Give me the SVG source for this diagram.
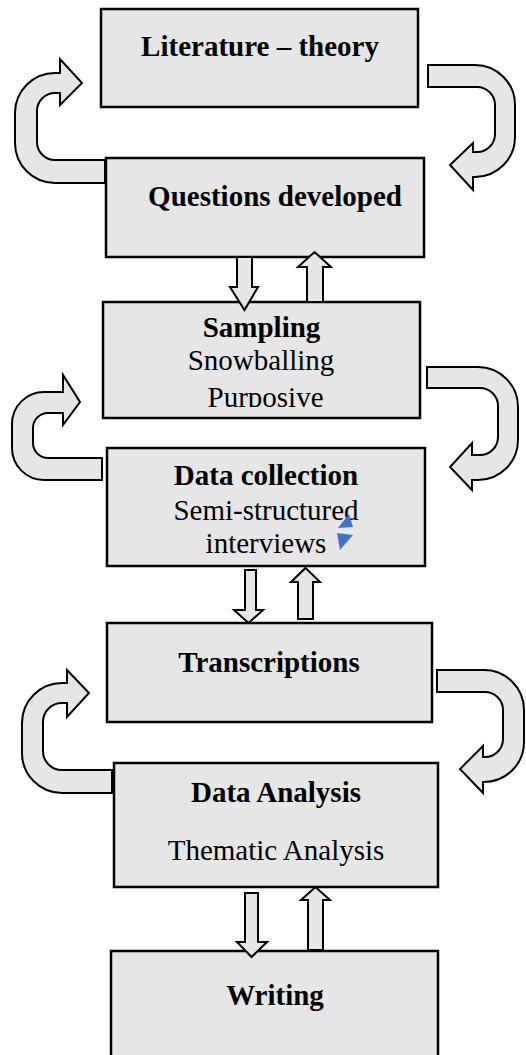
<svg xmlns="http://www.w3.org/2000/svg" width="526" height="1055" viewBox="0 0 526 1055">
<style>
.box{fill:#e6e6e6;stroke:#000;stroke-width:2.5}
.arr{fill:#e6e6e6;stroke:#000;stroke-width:2;stroke-linejoin:miter}
.b{font-family:"Liberation Serif","Times New Roman",serif;font-weight:bold;font-size:29px;fill:#000;text-anchor:middle}
.r{font-family:"Liberation Serif","Times New Roman",serif;font-size:29px;fill:#000;text-anchor:middle}
</style>
<defs>
<clipPath id="clipS"><rect x="100" y="300" width="330" height="107"/></clipPath>
</defs>
<g id="loops">
<path class="arr" d="M105,183 H55 A40,40 0 0 1 15,143 V113 A40,40 0 0 1 55,73 H60 V59 L82,83 L60,105 V93 H55 A18,18 0 0 0 37,111 V142 A18,18 0 0 0 55,160 H105 Z"/>
<path class="arr" d="M428,65 H475 A40,40 0 0 1 515,105 V137 A40,40 0 0 1 475,177 H473 V190 L450,165 L473,143 V152 H477 A18,18 0 0 0 495,134 V105 A18,18 0 0 0 477,87 H428 Z"/>
<path class="arr" d="M102,480 H44 A32,32 0 0 1 12,448 V424 A32,32 0 0 1 44,392 H63 V375 L80,402 L63,425 V413 H48 A15,15 0 0 0 33,428 V443 A15,15 0 0 0 48,458 H102 Z"/>
<path class="arr" d="M427,367 H478 A40,40 0 0 1 518,407 V440 A40,40 0 0 1 478,480 H472 V490 L450,467 L472,443 V455 H480 A18,18 0 0 0 498,437 V406 A18,18 0 0 0 480,388 H427 Z"/>
<path class="arr" d="M112,793 H62 A40,40 0 0 1 22,753 V723 A40,40 0 0 1 62,683 H67 V670 L89,693 L67,717 V703 H62 A19,19 0 0 0 43,722 V751 A19,19 0 0 0 62,770 H112 Z"/>
<path class="arr" d="M437,670 H484 A40,40 0 0 1 524,710 V742 A40,40 0 0 1 484,782 H483 V793 L460,769 L483,746 V757 H485 A18,18 0 0 0 503,739 V710 A18,18 0 0 0 485,692 H437 Z"/>
</g>
<g id="n1"><rect class="box" x="101" y="9" width="317" height="98"/><text class="b" x="260" y="56">Literature – theory</text></g>
<g id="n2"><rect class="box" x="106" y="158" width="318" height="99"/><text class="b" x="275" y="206">Questions developed</text></g>
<g id="n3"><rect class="box" x="103" y="302" width="317" height="116"/><text class="b" x="261.5" y="337">Sampling</text><text class="r" x="261" y="370">Snowballing</text><text class="r" x="265.5" y="407" clip-path="url(#clipS)">Purposive</text></g>
<g id="n4"><rect class="box" x="107" y="448" width="318" height="118"/><text class="b" x="266" y="485">Data collection</text><text class="r" x="266" y="520">Semi-structured</text><text class="r" x="266" y="553">interviews</text>
<polygon points="349,514 353,527 338,528" fill="#4472C4"/><polygon points="337,533 353,535 340,550" fill="#4472C4"/></g>
<g id="n5"><rect class="box" x="107" y="623" width="325" height="99"/><text class="b" x="269" y="672">Transcriptions</text></g>
<g id="n6"><rect class="box" x="114" y="763" width="324" height="124"/><text class="b" x="276" y="802">Data Analysis</text><text class="r" x="276" y="860">Thematic Analysis</text></g>
<g id="n7"><rect class="box" x="111" y="951" width="327" height="120"/><text class="b" x="275" y="1005">Writing</text></g>
<g id="connectors">
<polygon class="arr" points="237,257 252,257 252,287 258,287 244.5,310 230,287 237,287"/>
<polygon class="arr" points="307,302 323,302 323,267 331,267 314.5,252 298,267 307,267"/>
<polygon class="arr" points="245,570 256,570 256,610 263,610 248.5,623 234,610 245,610"/>
<polygon class="arr" points="298,619 313,619 313,582 320,582 305.5,568 291,582 298,582"/>
<polygon class="arr" points="245,893 258,893 258,942 267,942 251.5,957 237,942 245,942"/>
<polygon class="arr" points="308,950 323,950 323,900 330,900 315.5,887 301,900 308,900"/>
</g>
</svg>
